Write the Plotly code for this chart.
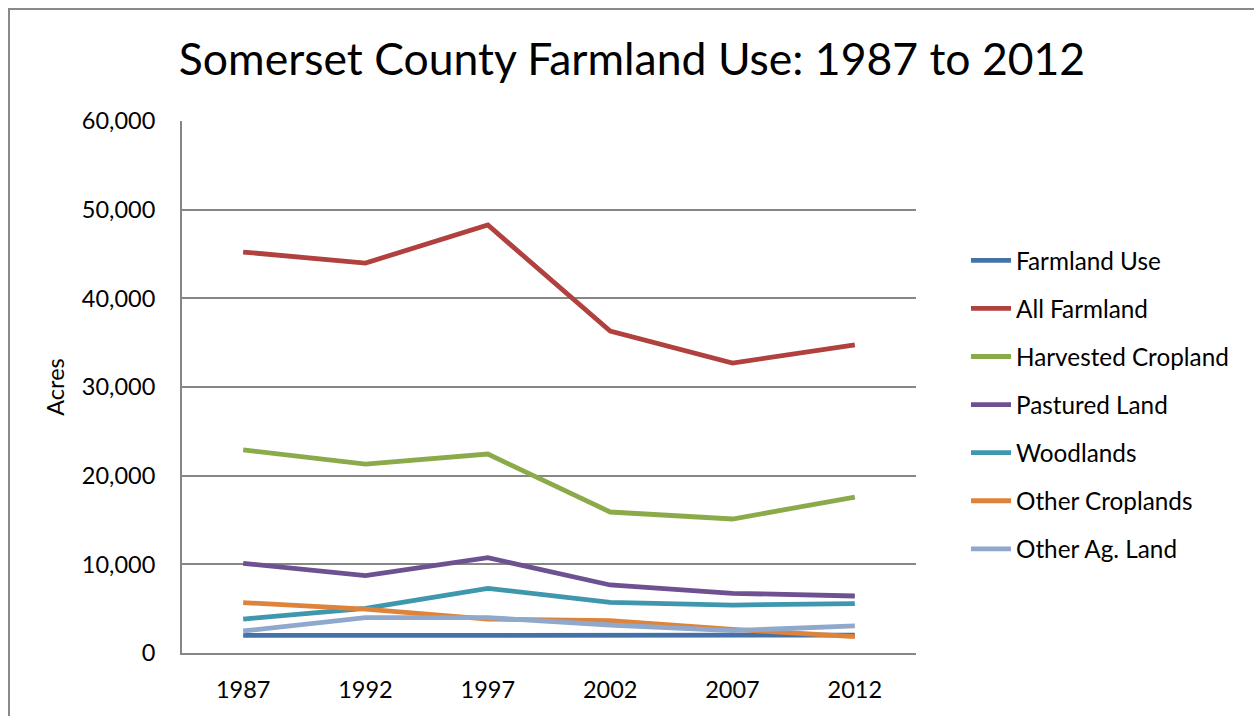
import plotly.graph_objects as go

years = [1987, 1992, 1997, 2002, 2007, 2012]
farmland_use = [1987, 1992, 1997, 2002, 2007, 2012]
all_farmland = [45220, 43980, 48270, 36310, 32700, 34740]
harvested_cropland = [22900, 21310, 22440, 15900, 15110, 17590]
pastured_land = [10120, 8720, 10750, 7670, 6730, 6430]
woodlands = [3830, 5040, 7290, 5710, 5410, 5560]
other_croplands = [5680, 4960, 3830, 3650, 2670, 1840]
other_ag_land = [2480, 3980, 3980, 3160, 2520, 3050]

series = [
    ("Farmland Use", farmland_use, "#4471A7"),
    ("All Farmland", all_farmland, "#B0413E"),
    ("Harvested Cropland", harvested_cropland, "#8BAB4B"),
    ("Pastured Land", pastured_land, "#6D5190"),
    ("Woodlands", woodlands, "#3F97AE"),
    ("Other Croplands", other_croplands, "#DE833A"),
    ("Other Ag. Land", other_ag_land, "#8FA8CC"),
]

FONT = "Lato, 'Open Sans', sans-serif"

fig = go.Figure()
for i, (name, vals, color) in enumerate(series):
    fig.add_trace(go.Scatter(
        x=years, y=vals, name=name, mode="lines",
        line=dict(color=color, width=4.8),
        legendgroup=f"g{i}",
    ))

W, H = 1254, 716
L, R, T, B = 182, 916, 121, 653
pw, ph = R - L, B - T

def px(x):
    return (x - L) / pw

def py(y):
    return (B - y) / ph

fig.update_layout(
    width=W, height=H,
    margin=dict(l=L, r=W - R, t=T, b=H - B, pad=0),
    paper_bgcolor="white", plot_bgcolor="white",
    font=dict(family=FONT, color="#000000", size=24),
    title=dict(text="Somerset County Farmland Use: 1987 to 2012",
               x=px(632), xref="paper", xanchor="center",
               y=1 - 59 / H, yanchor="middle",
               font=dict(size=44.5, family=FONT, color="#000000")),
    xaxis=dict(
        range=[1984.5, 2014.5], tickvals=years, ticktext=[str(y) for y in years],
        showgrid=False, zeroline=False, showline=True, linecolor="#868686", linewidth=2,
        ticks="", tickfont=dict(size=23.5, family=FONT, color="#000000"), ticklabelstandoff=15,
    ),
    yaxis=dict(
        range=[0, 60000], tickvals=[0, 10000, 20000, 30000, 40000, 50000, 60000],
        ticktext=["0", "10,000", "20,000", "30,000", "40,000", "50,000", "60,000"],
        showgrid=True, gridcolor="#868686", gridwidth=2, zeroline=False,
        showline=True, linecolor="#868686", linewidth=2, ticks="",
        tickfont=dict(size=23.5, family=FONT, color="#000000"), ticklabelstandoff=20,
        title=dict(text="Acres", font=dict(size=23.5, family=FONT, color="#000000"), standoff=11),
    ),
    legend=dict(
        x=px(966), xanchor="left", y=py(238), yanchor="top",
        font=dict(size=24.3, family=FONT, color="#000000"),
        tracegroupgap=13.5, itemwidth=40, bgcolor="rgba(0,0,0,0)",
    ),
    showlegend=True,
)

fig.add_shape(type="rect", xref="paper", yref="paper",
              x0=px(9), x1=px(1262), y0=py(9), y1=py(730),
              line=dict(color="#898989", width=2), fillcolor="rgba(0,0,0,0)", layer="below")

fig.write_html("out.html")
